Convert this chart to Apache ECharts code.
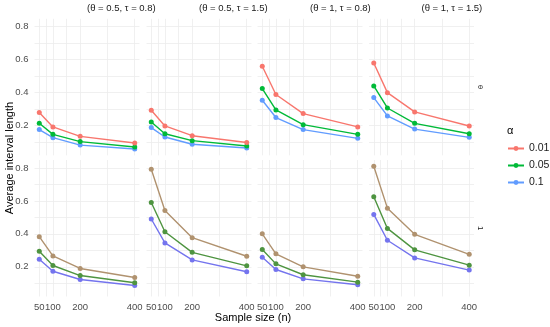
<!DOCTYPE html>
<html>
<head>
<meta charset="utf-8">
<script src="https://cdn.jsdelivr.net/npm/echarts@6/dist/echarts.min.js"></script>
<style>
html,body{margin:0;padding:0;background:#fff;}
#chart{width:550px;height:327px;}
</style>
</head>
<body>
<div id="chart"></div>
<script>
// ---- data ----
const sampleSizes = [50, 100, 200, 400];
const alphaLevels = ['0.01', '0.05', '0.1'];
const columnLabels = ['(\u03b8 = 0.5, \u03c4 = 0.8)', '(\u03b8 = 0.5, \u03c4 = 1.5)', '(\u03b8 = 1, \u03c4 = 0.8)', '(\u03b8 = 1, \u03c4 = 1.5)'];
const rowLabels = ['\u03b8', '1'];
const yTicks = [0.2, 0.4, 0.6, 0.8];
const xTicks = [50, 100, 200, 400];

// top row (θ)
const top_c1_a001 = [0.279, 0.192, 0.135, 0.095];
const top_c1_a005 = [0.214, 0.147, 0.103, 0.070];
const top_c1_a01  = [0.176, 0.127, 0.082, 0.058];
const top_c2_a001 = [0.293, 0.198, 0.139, 0.098];
const top_c2_a005 = [0.222, 0.151, 0.109, 0.076];
const top_c2_a01  = [0.188, 0.131, 0.087, 0.064];
const top_c3_a001 = [0.560, 0.389, 0.273, 0.192];
const top_c3_a005 = [0.425, 0.295, 0.206, 0.147];
const top_c3_a01  = [0.354, 0.249, 0.176, 0.123];
const top_c4_a001 = [0.580, 0.400, 0.283, 0.198];
const top_c4_a005 = [0.441, 0.307, 0.214, 0.151];
const top_c4_a01  = [0.370, 0.259, 0.179, 0.129];
// bottom row (1)
const bot_c1_a001 = [0.383, 0.266, 0.190, 0.135];
const bot_c1_a005 = [0.294, 0.208, 0.147, 0.103];
const bot_c1_a01  = [0.246, 0.173, 0.123, 0.087];
const bot_c2_a001 = [0.792, 0.542, 0.377, 0.264];
const bot_c2_a005 = [0.590, 0.413, 0.288, 0.206];
const bot_c2_a01  = [0.490, 0.345, 0.242, 0.170];
const bot_c3_a001 = [0.400, 0.279, 0.200, 0.143];
const bot_c3_a005 = [0.305, 0.218, 0.152, 0.107];
const bot_c3_a01  = [0.258, 0.184, 0.127, 0.091];
const bot_c4_a001 = [0.810, 0.556, 0.397, 0.276];
const bot_c4_a005 = [0.625, 0.433, 0.303, 0.210];
const bot_c4_a01  = [0.518, 0.361, 0.254, 0.180];

const panels = [
  [[top_c1_a001, top_c1_a005, top_c1_a01], [top_c2_a001, top_c2_a005, top_c2_a01], [top_c3_a001, top_c3_a005, top_c3_a01], [top_c4_a001, top_c4_a005, top_c4_a01]],
  [[bot_c1_a001, bot_c1_a005, bot_c1_a01], [bot_c2_a001, bot_c2_a005, bot_c2_a01], [bot_c3_a001, bot_c3_a005, bot_c3_a01], [bot_c4_a001, bot_c4_a005, bot_c4_a01]]
];

// ---- styles ----
const topColors = ['#F8766D', '#00BA38', '#619CFF'];
const botColors = ['#B0926F', '#4E9440', '#7474EE'];
const FONT = 'Liberation Sans, Arial, sans-serif';
const gridLefts = [34.5, 146.5, 257.5, 369];
const gridTops = [18.8, 160];
const gridW = 105, gridH = 136.5;

const grids = [], xAxes = [], yAxes = [], series = [];
let idx = 0;
for (let r = 0; r < 2; r++) {
  for (let c = 0; c < 4; c++) {
    grids.push({left: gridLefts[c], top: gridTops[r], width: gridW, height: gridH, containLabel: false});
    xAxes.push({
      type: 'value', gridIndex: idx, min: 32.5, max: 417.5,
      axisLine: {show: false},
      axisTick: {show: false, customValues: [50, 75, 100, 150, 200, 300, 400]},
      axisLabel: {show: r === 1, customValues: xTicks, color: '#4d4d4d', fontSize: 9.5, fontFamily: FONT, margin: 6},
      splitLine: {show: true, lineStyle: {color: '#ececec', width: 0.8}}
    });
    yAxes.push({
      type: 'value', gridIndex: idx, min: 0.02, max: 0.848,
      axisLine: {show: false},
      axisTick: {show: false, customValues: [0.1, 0.2, 0.3, 0.4, 0.5, 0.6, 0.7, 0.8]},
      axisLabel: {show: c === 0, customValues: yTicks, color: '#4d4d4d', fontSize: 9.5, fontFamily: FONT, margin: 6,
                  formatter: v => v.toFixed(1)},
      splitLine: {show: true, lineStyle: {color: '#ececec', width: 0.8}}
    });
    for (let a = 0; a < 3; a++) {
      const vals = panels[r][c][a];
      const col = r === 0 ? topColors[a] : botColors[a];
      series.push({
        type: 'line', name: alphaLevels[a], xAxisIndex: idx, yAxisIndex: idx,
        data: sampleSizes.map((n, i) => [n, vals[i]]),
        symbol: 'circle', symbolSize: 5, showSymbol: true,
        lineStyle: {color: col, width: 1.4}, itemStyle: {color: col},
        emphasis: {disabled: true}, animation: false, z: 3 - a
      });
    }
    idx++;
  }
}

const graphics = [];
columnLabels.forEach((t, c) => {
  graphics.push({type: 'text', left: gridLefts[c] + gridW / 2, top: 3,
    style: {text: t, font: '9.5px ' + FONT, fill: '#1a1a1a', textAlign: 'center'}});
});
rowLabels.forEach((t, r) => {
  graphics.push({type: 'text', x: 480, y: gridTops[r] + gridH / 2, rotation: -Math.PI / 2,
    style: {text: t, font: '8px ' + FONT, fill: '#1a1a1a', textAlign: 'center', textVerticalAlign: 'middle'}});
});
graphics.push({type: 'text', x: 10, y: 158, rotation: Math.PI / 2,
  style: {text: 'Average interval length', font: '11px ' + FONT, fill: '#000', textAlign: 'center', textVerticalAlign: 'middle'}});
graphics.push({type: 'text', x: 253, y: 318,
  style: {text: 'Sample size (n)', font: '11px ' + FONT, fill: '#000', textAlign: 'center', textVerticalAlign: 'middle'}});
graphics.push({type: 'text', x: 507, y: 131,
  style: {text: '\u03b1', font: '11px ' + FONT, fill: '#000', textAlign: 'left', textVerticalAlign: 'middle'}});

const chart = echarts.init(document.getElementById('chart'), null, {renderer: 'canvas'});
chart.setOption({
  backgroundColor: '#ffffff',
  animation: false,
  grid: grids, xAxis: xAxes, yAxis: yAxes, series: series,
  legend: {
    data: alphaLevels, orient: 'vertical', left: 507, top: 143, padding: 0,
    itemWidth: 16, itemHeight: 6, itemGap: 6, selectedMode: false,
    textStyle: {fontSize: 10.5, fontFamily: FONT, color: '#1a1a1a'}
  },
  graphic: graphics
});
</script>
</body>
</html>
